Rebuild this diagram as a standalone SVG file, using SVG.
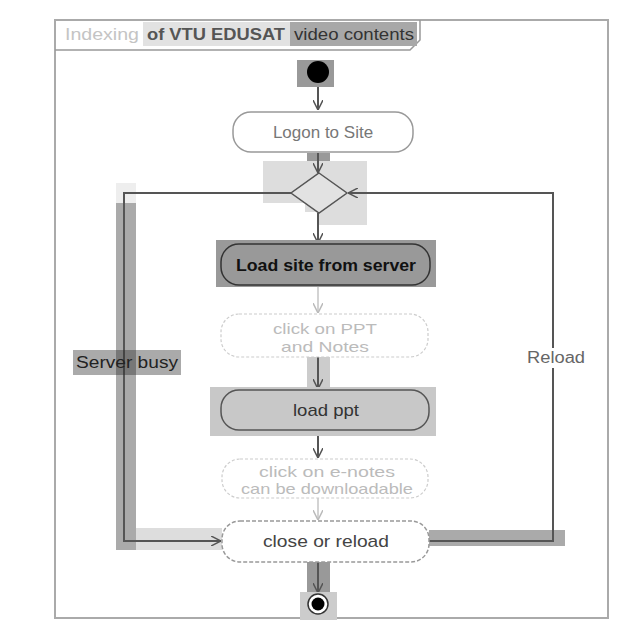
<svg xmlns="http://www.w3.org/2000/svg" width="640" height="640" viewBox="0 0 640 640">
<defs>
<style>
text{font-family:"Liberation Sans",Arial,sans-serif;text-anchor:middle}
.node{stroke-width:1.5}
.line{fill:none;stroke:#555;stroke-width:2}
.faint{fill:none;stroke:#c4c4c4;stroke-width:1.5}
.ghost{fill:#fff;stroke:#ccc;stroke-width:1.2;stroke-dasharray:3 2}
.ghostt{fill:#bbb;font-size:15px}
</style>
<marker id="ad" viewBox="0 0 10 10" refX="10" refY="5" markerWidth="10" markerHeight="10" markerUnits="userSpaceOnUse" orient="auto">
<path d="M0,0 L10,5 L0,10" fill="none" stroke="#555" stroke-width="1.5"/>
</marker>
<marker id="al" viewBox="0 0 10 10" refX="10" refY="5" markerWidth="10" markerHeight="10" markerUnits="userSpaceOnUse" orient="auto">
<path d="M0,0 L10,5 L0,10" fill="none" stroke="#bbb" stroke-width="1.5"/>
</marker>
</defs>
<rect width="640" height="640" fill="#fff"/>
<g id="frame">
<rect x="55" y="20" width="553" height="598" fill="none" stroke="#aaa" stroke-width="2"/>
<path d="M55,50 H410 L420,40 V20" fill="none" stroke="#999" stroke-width="1.5"/>
<rect x="143" y="22" width="147" height="24" fill="#e2e2e2"/>
<rect x="290" y="22" width="127" height="24" fill="#a8a8a8"/>
<text x="102" y="40" font-size="16" fill="#c4c4c4" textLength="74" lengthAdjust="spacingAndGlyphs">Indexing</text>
<text x="216" y="40" font-size="16" font-weight="bold" fill="#555" textLength="138" lengthAdjust="spacingAndGlyphs">of VTU EDUSAT</text>
<text x="354" y="40" font-size="16" fill="#333" textLength="120" lengthAdjust="spacingAndGlyphs">video contents</text>
</g>
<g id="highlights">
<rect x="307" y="153" width="23" height="20" fill="#999"/>
<rect x="263" y="161" width="104" height="64" fill="#ddd"/>
<rect x="263" y="203" width="42" height="22" fill="#fff"/>
<rect x="305" y="212" width="13" height="13" fill="#fff"/>
<rect x="116" y="183" width="20" height="20" fill="#eee"/>
<rect x="116" y="203" width="20" height="347" fill="#aaa"/>
<rect x="136" y="528" width="86" height="22" fill="#ddd"/>
<rect x="429" y="530" width="136" height="16" fill="#aaa"/>
<rect x="307" y="357" width="23" height="30" fill="#ccc"/>
<rect x="307" y="562" width="23" height="30" fill="#999"/>
</g>
<g id="connectors">
<path class="line" d="M318,84 V110" marker-end="url(#ad)" stroke="#888"/>
<path class="line" d="M318,153 V173" marker-end="url(#ad)"/>
<path class="line" d="M318,213 V243" marker-end="url(#ad)" stroke="#888"/>
<path class="faint" d="M318,287 V313" marker-end="url(#al)"/>
<path class="line" d="M318,357 V389" marker-end="url(#ad)"/>
<path class="line" d="M318,430 V458" marker-end="url(#ad)" stroke="#888"/>
<path class="faint" d="M318,498 V520" marker-end="url(#al)"/>
<path class="line" d="M318,562 V593" marker-end="url(#ad)" stroke="#333"/>
<path class="line" d="M291,193 H124 V541 H221" marker-end="url(#ad)"/>
<path class="line" d="M429,541 H553 V193 H348" marker-end="url(#ad)" stroke="#888"/>
</g>
<g id="start">
<rect x="297" y="60" width="37" height="27" fill="#999"/>
<circle cx="318" cy="72" r="11" fill="#000"/>
</g>
<g id="logon">
<rect class="node" x="233" y="112" width="180" height="40" rx="18" fill="#fff" stroke="#999"/>
<text x="323" y="138" font-size="17" fill="#777">Logon to Site</text>
</g>
<g id="decision">
<polygon points="319,173 347,193 319,213 291,193" fill="#e2e2e2" stroke="#555" stroke-width="1.5"/>
</g>
<g id="load-site">
<rect x="216" y="240" width="220" height="47" fill="#999"/>
<rect class="node" x="221" y="244" width="209" height="41" rx="18" fill="#999" stroke="#333"/>
<text x="326" y="271" font-size="16" font-weight="bold" fill="#111" textLength="180" lengthAdjust="spacingAndGlyphs">Load site from server</text>
</g>
<g id="click-ppt">
<rect class="ghost" x="221" y="314" width="207" height="43" rx="18"/>
<text class="ghostt" x="325" y="334" textLength="104" lengthAdjust="spacingAndGlyphs">click on PPT</text>
<text class="ghostt" x="325" y="352" textLength="88" lengthAdjust="spacingAndGlyphs">and Notes</text>
</g>
<g id="load-ppt">
<rect x="210" y="387" width="226" height="49" fill="#c8c8c8"/>
<rect class="node" x="221" y="390" width="208" height="40" rx="18" fill="#c8c8c8" stroke="#555"/>
<text x="326" y="416" font-size="17" fill="#333" textLength="66" lengthAdjust="spacingAndGlyphs">load ppt</text>
</g>
<g id="click-notes">
<rect class="ghost" x="222" y="459" width="206" height="39" rx="18"/>
<text class="ghostt" x="327" y="477" textLength="136" lengthAdjust="spacingAndGlyphs">click on e-notes</text>
<text class="ghostt" x="327" y="494" textLength="172" lengthAdjust="spacingAndGlyphs">can be downloadable</text>
</g>
<g id="close-reload">
<rect class="node" x="222" y="521" width="207" height="41" rx="18" fill="#fff" stroke="#999" stroke-dasharray="4 2"/>
<text x="326" y="547" font-size="17" fill="#444" textLength="126" lengthAdjust="spacingAndGlyphs">close or reload</text>
</g>
<g id="end">
<rect x="300" y="592" width="37" height="28" fill="#ccc"/>
<circle cx="318" cy="604" r="10" fill="#fff" stroke="#333" stroke-width="1.5"/>
<circle cx="318" cy="604" r="6.5" fill="#000"/>
</g>
<g id="labels">
<rect x="73" y="350" width="108" height="25" fill="#aaa"/>
<rect x="116" y="350" width="20" height="25" fill="#777"/>
<path d="M124,350 V375" stroke="#444" stroke-width="2"/>
<text x="127" y="368" font-size="16" fill="#222" textLength="102" lengthAdjust="spacingAndGlyphs">Server busy</text>
<rect x="524" y="348" width="64" height="20" fill="#fff"/>
<text x="556" y="363" font-size="16" fill="#666" textLength="58" lengthAdjust="spacingAndGlyphs">Reload</text>
</g>
</svg>
